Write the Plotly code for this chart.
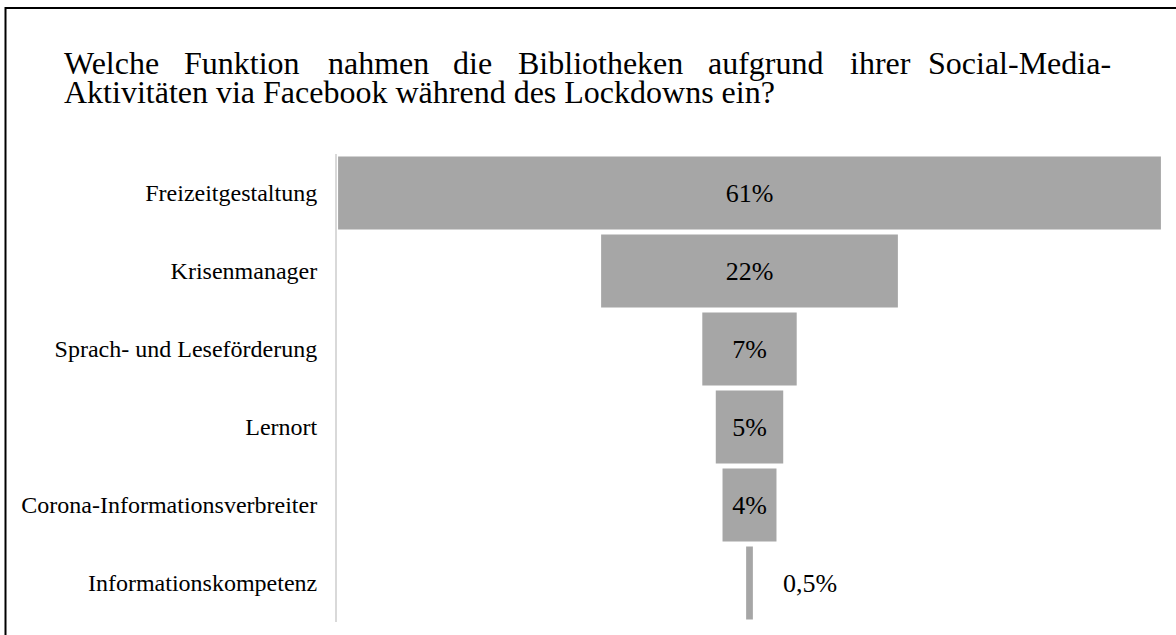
import plotly.graph_objects as go

# Survey result: functions of libraries via Facebook during the lockdown
categories = [
    "Freizeitgestaltung",
    "Krisenmanager",
    "Sprach- und Leseförderung",
    "Lernort",
    "Corona-Informationsverbreiter",
    "Informationskompetenz",
]
shares = [61, 22, 7, 5, 4, 0.5]

title_line1 = ["Welche", "Funktion", "nahmen", "die", "Bibliotheken",
               "aufgrund", "ihrer", "Social-Media-"]
title_line2 = "Aktivitäten via Facebook während des Lockdowns ein?"

W, H = 1176, 635
ML, MR, MT, MB = 337, 14, 154, 13
PW, PH = W - ML - MR, H - MT - MB
FONT = "Liberation Serif"
BAR = "#a6a6a6"
TITLE_SIZE = 32


def px_x(p):
    return (p - ML) / PW


def px_y(p):
    return 1 - (p - MT) / PH


def fmt(v):
    return f"{v:g}%".replace(".", ",")


inside_text = [fmt(v) if v >= 1 else "" for v in shares]

fig = go.Figure(go.Funnel(
    y=categories,
    x=shares,
    text=inside_text,
    textinfo="text",
    textposition="inside",
    insidetextanchor="middle",
    textfont=dict(family=FONT, size=26, color="#000000"),
    marker=dict(color=BAR, line=dict(width=0)),
    connector=dict(visible=False),
    hoverinfo="skip",
))

annotations = []
# small share labelled beside its bar
for cat, v in zip(categories, shares):
    if v < 1:
        annotations.append(dict(
            x=v / 2, y=cat, xref="x", yref="y", text=fmt(v),
            showarrow=False, xanchor="left", xshift=28,
            font=dict(family=FONT, size=26, color="#000000"),
        ))

# justified first title line: words spread between the left and right margins
line1_y = px_y(63)
line1_pos = [62, 242, 378, 472, 600, 766, 880, 1113]
for i, (word, xp) in enumerate(zip(title_line1, line1_pos)):
    anchor = "left" if i == 0 else ("right" if i == len(title_line1) - 1 else "center")
    annotations.append(dict(
        x=px_x(xp), y=line1_y, xref="paper", yref="paper", text=word,
        showarrow=False, xanchor=anchor, yanchor="middle",
        font=dict(family=FONT, size=TITLE_SIZE, color="#000000"),
    ))
annotations.append(dict(
    x=px_x(62), y=px_y(92), xref="paper", yref="paper", text=title_line2,
    showarrow=False, xanchor="left", yanchor="middle",
    font=dict(family=FONT, size=TITLE_SIZE, color="#000000"),
))

shapes = [
    dict(type="line", xref="paper", yref="paper",
         x0=px_x(5), x1=px_x(W + 5), y0=px_y(8), y1=px_y(8),
         line=dict(color="#000000", width=2)),
    dict(type="line", xref="paper", yref="paper",
         x0=px_x(5.5), x1=px_x(5.5), y0=px_y(7), y1=px_y(H + 5),
         line=dict(color="#000000", width=2)),
]

fig.update_layout(
    width=W, height=H,
    margin=dict(l=ML, r=MR, t=MT, b=MB, pad=0),
    paper_bgcolor="#ffffff",
    plot_bgcolor="#ffffff",
    showlegend=False,
    funnelgap=0.064,
    annotations=annotations,
    shapes=shapes,
    xaxis=dict(range=[-30.58, 30.58], visible=False, fixedrange=True),
    yaxis=dict(
        autorange="reversed",
        showline=True, linecolor="#d9d9d9", linewidth=2,
        showgrid=False, zeroline=False, ticks="",
        ticklabelstandoff=13,
        tickfont=dict(family=FONT, size=24, color="#000000"),
        fixedrange=True,
    ),
    font=dict(family=FONT),
)

fig.write_html("out.html", config={"displayModeBar": False})
